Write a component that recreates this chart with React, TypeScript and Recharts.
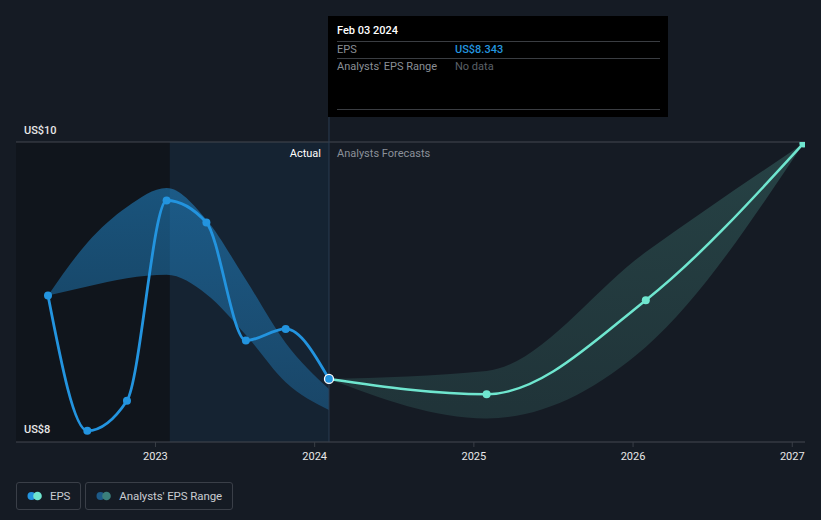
import React from "react";
import { ComposedChart, Area, Line, XAxis, YAxis, CartesianGrid, ReferenceArea, ReferenceLine } from "recharts";

// quarterly reported EPS (fractional years)
const actualDates = [2022.325, 2022.572, 2022.821, 2023.07, 2023.32, 2023.568, 2023.818, 2024.09];
const actualEps = [8.926, 7.981, 8.191, 9.591, 9.437, 8.611, 8.693, 8.343];
const pastRangeLow = [8.926, 8.99, 9.048, 9.071, 8.936, 8.651, 8.32, 8.126];
const pastRangeHigh = [8.926, 9.295, 9.545, 9.678, 9.456, 9.036, 8.595, 8.273];

// analyst forecasts
const forecastDates = [2024.09, 2025.08, 2026.08, 2027.07];
const forecastEps = [8.343, 8.236, 8.894, 9.99];
const forecastLow = [8.343, 8.067, 8.567, 9.99];
const forecastHigh = [8.343, 8.399, 9.23, 9.99];

const yearTicks = [2023, 2024, 2025, 2026, 2027];
const gridValues = [8.063, 8.868, 9.68, 10];
const topLabel = { value: 10, text: "US$10" };
const bottomLabel = { value: 8.063, text: "US$8" };

const xDomain = [2022.124, 2027.08];
const yDomain = [7.902, 10];
const lastActual = 2024.09;
const yearBefore = 2023.09;

const pastData = actualDates.map((t, i) => ({ t, eps: actualEps[i], range: [pastRangeLow[i], pastRangeHigh[i]] }));
const forecastData = forecastDates.map((t, i) => ({ t, eps: forecastEps[i], range: [forecastLow[i], forecastHigh[i]] }));

const BG = "#151b24";
const BLUE = "#2394df";
const TEAL = "#6fe6cf";
const AXIS = "#3a3f47";
const FONT = "Roboto, 'Noto Sans', sans-serif";

const YearTick = (props: any) => {
  const { x, y, payload } = props;
  return (
    <text x={x} y={y + 7} textAnchor="middle" dominantBaseline="central" fill="#e8e8e8" fontSize={11} fontFamily={FONT}>
      {payload.value}
    </text>
  );
};

const priceLabel = (text: string, dy: number) => (props: any) => {
  const vb = props.viewBox || {};
  return (
    <text x={vb.x + 8} y={vb.y + dy} textAnchor="start" dominantBaseline="central" fill="#e8e8e8" fontSize={11} fontWeight={500} fontFamily={FONT}>
      {text}
    </text>
  );
};

const ActualDot = (props: any) => {
  const { cx, cy, index } = props;
  if (index === actualDates.length - 1) {
    return <circle key={index} cx={cx} cy={cy} r={4.5} fill={BLUE} stroke="#ffffff" strokeWidth={1.3} />;
  }
  return <circle key={index} cx={cx} cy={cy} r={4} fill={BLUE} />;
};

const ForecastDot = (props: any) => {
  const { cx, cy, index } = props;
  if (index === 0) return <g key={index} />;
  return <circle key={index} cx={cx} cy={cy} r={4} fill={TEAL} />;
};

const LegendItem = ({ a, b, label }: { a: string; b: string; label: string }) => (
  <div style={{ display: "flex", alignItems: "center", height: 26, padding: "0 10px 0 10px", border: "1px solid #3a3f48", borderRadius: 3, marginRight: 4 }}>
    <svg width={16} height={10} style={{ marginRight: 7 }}>
      <circle cx={4.5} cy={5} r={4} fill={a} />
      <circle cx={10.5} cy={5} r={4.3} fill={b} />
    </svg>
    <span style={{ color: "#c9ccd1", fontSize: 11.5, letterSpacing: -0.1 }}>{label}</span>
  </div>
);

const App = () => {
  return (
    <div style={{ position: "absolute", left: 0, top: 0, width: 821, height: 520, background: BG, fontFamily: FONT, overflow: "hidden" }}>
      <ComposedChart width={821} height={520} margin={{ top: 142, right: 16, left: 16, bottom: 0 }}>
        <defs>
          <linearGradient id="pastBand" x1="0" y1="0" x2="0" y2="1">
            <stop offset="0%" stopColor={BLUE} stopOpacity={0.82} />
            <stop offset="100%" stopColor={BLUE} stopOpacity={0.52} />
          </linearGradient>
          <linearGradient id="futureBand" x1="0" y1="0" x2="0" y2="1">
            <stop offset="0%" stopColor={TEAL} stopOpacity={0.32} />
            <stop offset="100%" stopColor={TEAL} stopOpacity={0.2} />
          </linearGradient>
        </defs>
        <ReferenceArea x1={xDomain[0]} x2={yearBefore} y1={yDomain[0]} y2={yDomain[1]} fill="#000000" fillOpacity={0.2} stroke="none" />
        <ReferenceArea x1={yearBefore} x2={lastActual} y1={yDomain[0]} y2={yDomain[1]} fill="#1679c8" fillOpacity={0.09} stroke="none" />
        <CartesianGrid vertical={false} stroke="#2a3039" />
        <XAxis type="number" dataKey="t" domain={xDomain} ticks={yearTicks} allowDataOverflow height={78} stroke={AXIS} tickSize={5} tick={<YearTick />} />
        <YAxis type="number" domain={yDomain} ticks={gridValues} allowDataOverflow width={0} axisLine={false} tickLine={false} tick={false} />
        <ReferenceLine y={topLabel.value} stroke={AXIS} label={priceLabel(topLabel.text, -12)} />
        <ReferenceLine y={bottomLabel.value} stroke="none" label={priceLabel(bottomLabel.text, 11)} />
        <ReferenceLine
          segment={[{ x: lastActual, y: 10.175 }, { x: lastActual, y: yDomain[0] }]}
          ifOverflow="visible"
          stroke="#2b3d52"
        />
        <Area data={forecastData} dataKey="range" type="monotoneX" stroke="none" fill="url(#futureBand)" isAnimationActive={false} activeDot={false} />
        <Area data={pastData} dataKey="range" type="monotoneX" stroke="none" fill="url(#pastBand)" isAnimationActive={false} activeDot={false} />
        <Line data={forecastData} dataKey="eps" type="monotoneX" stroke={TEAL} strokeWidth={2.5} dot={<ForecastDot />} activeDot={false} isAnimationActive={false} />
        <Line data={pastData} dataKey="eps" type="monotoneX" stroke={BLUE} strokeWidth={2.8} dot={<ActualDot />} activeDot={false} isAnimationActive={false} />
      </ComposedChart>

      <div style={{ position: "absolute", left: 0, width: 321, top: 147, textAlign: "right", color: "#ffffff", fontSize: 11 }}>Actual</div>
      <div style={{ position: "absolute", left: 337, top: 147, color: "#8b9099", fontSize: 11 }}>Analysts Forecasts</div>

      <div style={{ position: "absolute", left: 328, top: 16, width: 340, height: 101, background: "#000000", boxSizing: "border-box", padding: "0 8px 0 9px" }}>
        <div style={{ color: "#ffffff", fontSize: 11, fontWeight: 500, height: 25, lineHeight: "30px" }}>Feb 03 2024</div>
        <div style={{ display: "flex", borderTop: "1px solid #3a3d42", height: 16, lineHeight: "16px", fontSize: 11 }}>
          <span style={{ width: 118, color: "#8a8f96" }}>EPS</span>
          <span style={{ color: BLUE, fontWeight: 500 }}>US$8.343</span>
        </div>
        <div style={{ display: "flex", borderTop: "1px solid #3a3d42", height: 50, lineHeight: "16px", fontSize: 11, borderBottom: "1px solid #3a3d42" }}>
          <span style={{ width: 118, color: "#8a8f96" }}>Analysts' EPS Range</span>
          <span style={{ color: "#5b6068" }}>No data</span>
        </div>
      </div>

      <div style={{ position: "absolute", left: 16, top: 482, display: "flex" }}>
        <LegendItem a={BLUE} b={TEAL} label="EPS" />
        <LegendItem a="#1d5a88" b="#3b7f7b" label="Analysts' EPS Range" />
      </div>
    </div>
  );
};

export default App;
